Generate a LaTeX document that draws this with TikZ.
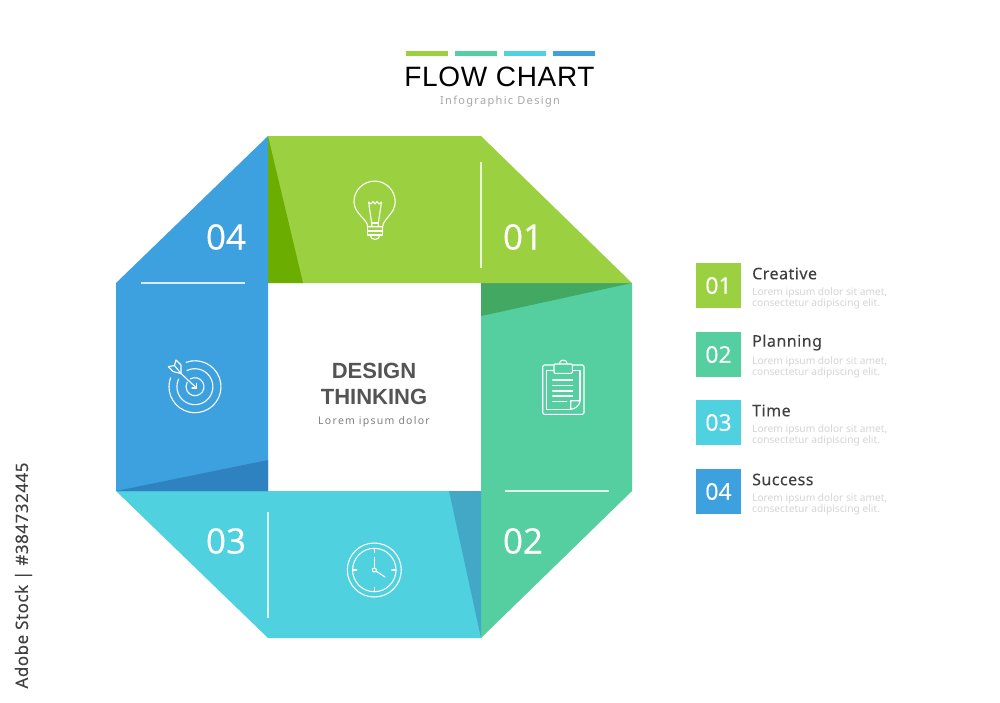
\documentclass[tikz,border=0pt]{standalone}
\usepackage{fontspec}
\setmainfont{Noto Sans}
\newfontfamily\headfont{Liberation Sans}
\newfontfamily\titlefont[LetterSpace=2.5]{Liberation Sans}
\newfontfamily\spacedfont[LetterSpace=12]{Noto Sans}
\newfontfamily\numfont[FakeBold=0.35]{Open Sans}
\newfontfamily\legendfont[LetterSpace=3,FakeBold=0.15]{Noto Sans}
\definecolor{cgreen}{HTML}{9BD141}
\definecolor{cteal}{HTML}{55CF9F}
\definecolor{ccyan}{HTML}{4FD1DF}
\definecolor{cblue}{HTML}{3EA1DF}
\definecolor{dgreen}{HTML}{6BAD00}
\definecolor{dteal}{HTML}{43A862}
\definecolor{dcyan}{HTML}{43A8C6}
\definecolor{dblue}{HTML}{2F82C0}
\tikzset{
  bignum/.style={text=white,font=\numfont\fontsize{35}{35}\selectfont,inner sep=0pt},
  boxnum/.style={fill=#1,minimum size=45pt,inner sep=0pt,text=white,font=\numfont\fontsize{23}{23}\selectfont},
  legendhead/.style={anchor=west,inner sep=0pt,text=black!75,font=\legendfont\fontsize{16}{16}\selectfont},
  legendtext/.style={anchor=north west,inner sep=0pt,align=left,text=black!17,font=\fontsize{10.2}{10.5}\selectfont},
  divider/.style={draw=white,line width=1.1pt,opacity=0.8},
  icon/.style={draw=white,line width=1.1pt,line cap=round,line join=round},
  topbar/.style={minimum width=42pt,minimum height=5pt,inner sep=0pt}
}
\begin{document}
\begin{tikzpicture}[x=1pt,y=-1pt]
\useasboundingbox (0,0) rectangle (1000,702);
\fill[cteal] (481,283) -- (632,283) -- (632,491) -- (481,638) -- cycle;
\fill[dteal] (481,283) -- (632,283) -- (481,316) -- cycle;
\fill[ccyan] (116,491) -- (481,491) -- (481,638) -- (268,638) -- cycle;
\fill[dcyan] (449,491) -- (481,491) -- (481,638) -- cycle;
\fill[cblue] (268,136) -- (268,491) -- (116,491) -- (116,283) -- cycle;
\fill[dblue] (116,491) -- (268,491) -- (268,460) -- cycle;
\fill[cgreen] (268,136) -- (481,136) -- (632,283) -- (268,283) -- cycle;
\fill[dgreen] (268,136) -- (303,283) -- (268,283) -- cycle;
\draw[divider] (141,283) -- (245,283);
\draw[divider] (481,162) -- (481,268);
\draw[divider] (505,491) -- (609,491);
\draw[divider] (268,512) -- (268,618);
\node[topbar,fill=cgreen] (bar1) at (427,53.2) {};
\node[topbar,fill=cteal] (bar2) at (476,53.2) {};
\node[topbar,fill=ccyan] (bar3) at (525,53.2) {};
\node[topbar,fill=cblue] (bar4) at (574,53.2) {};
\node[inner sep=0pt,font=\titlefont\fontsize{28}{28}\selectfont] (title) at (499.5,77) {FLOW CHART};
\node[inner sep=0pt,text=black!35,font=\spacedfont\fontsize{11}{11}\selectfont] (subtitle) at (500,101.5) {Infographic Design};
\node[bignum] (num4) at (226,237) {04};
\node[bignum] (num1) at (523,237) {01};
\node[bignum] (num2) at (523,541) {02};
\node[bignum] (num3) at (226,541) {03};
\node[inner sep=0pt,text=black!67,font=\headfont\bfseries\fontsize{22}{22}\selectfont] (design) at (374,371) {DESIGN};
\node[inner sep=0pt,text=black!67,font=\headfont\bfseries\fontsize{22}{22}\selectfont] (thinking) at (374,396.5) {THINKING};
\node[inner sep=0pt,text=black!50,font=\spacedfont\fontsize{10.5}{10.5}\selectfont] (lorem) at (374,422) {Lorem ipsum dolor};
\node[boxnum=cgreen] (box1) at (718.5,285.5) {01};
\node[boxnum=cteal] (box2) at (718.5,354.5) {02};
\node[boxnum=ccyan] (box3) at (718.5,422.5) {03};
\node[boxnum=cblue] (box4) at (718.5,491.5) {04};
\node[legendhead] (head1) at (752,273.5) {Creative};
\node[legendhead] (head2) at (752,342.5) {Planning};
\node[legendhead] (head3) at (752,410.5) {Time};
\node[legendhead] (head4) at (752,479.5) {Success};
\node[legendtext] (text1) at (752,288) {Lorem ipsum dolor sit amet,\\consectetur adipiscing elit.};
\node[legendtext] (text2) at (752,357) {Lorem ipsum dolor sit amet,\\consectetur adipiscing elit.};
\node[legendtext] (text3) at (752,425) {Lorem ipsum dolor sit amet,\\consectetur adipiscing elit.};
\node[legendtext] (text4) at (752,494) {Lorem ipsum dolor sit amet,\\consectetur adipiscing elit.};
\node[rotate=90,inner sep=0pt,text=black!75,font=\legendfont\fontsize{17}{17}\selectfont] (stockid) at (23.5,575.5) {Adobe Stock | \#384732445};
% bulb
\draw[icon] (367.7,226.7) .. controls (367.7,219) and (354,214) .. (354,201.7) arc[start angle=180,end angle=360,radius=20.6] .. controls (395.2,214) and (382.7,219) .. (382.7,226.7) -- cycle;
\draw[icon] (367.7,226.7) -- (367.7,235) -- (382.7,235) -- (382.7,226.7);
\draw[icon] (367.7,231) -- (382.7,231);
\draw[icon] (370,235) .. controls (371,241) and (379,241) .. (380,235);
\draw[icon] (371.7,226.7) -- (371.7,223) -- (368.5,202) -- (371,204) -- (373,201.5) -- (375,204) -- (377,201.5) -- (379,204) -- (381.5,202) -- (378.3,223) -- (378.3,226.7);
\draw[icon] (371.7,223) -- (378.3,223);
% target
\draw[icon] (186.1,362.3) arc[start angle=250,end angle=560,radius=26];
\draw[icon] (187,370.5) arc[start angle=244,end angle=565,radius=18];
\draw[icon] (190.5,378.9) arc[start angle=240,end angle=570,radius=9];
\draw[icon] (181,373.5) -- (196.5,388);
\draw[icon] (196.5,388) -- (196.5,383.5) (196.5,388) -- (192,388);
\draw[icon] (181,373.5) -- (173,371.5) -- (168.3,366.7) -- (174.5,365.5) -- (176,360) -- (181,365) -- cycle;
\draw[icon] (174.5,365.5) -- (181,373.5);
% clipboard
\draw[icon,rounded corners=1.5pt] (554,365) -- (542.7,365) -- (542.7,414.3) -- (584,414.3) -- (584,365) -- (572.3,365);
\draw[icon] (554,370.7) -- (546.7,370.7) -- (546.7,409.3) -- (570.7,409.3);
\draw[icon] (572.3,370.7) -- (580,370.7) -- (580,400.7);
\draw[icon,rounded corners=1pt] (554,373.3) -- (554,364) -- (572.3,364) -- (572.3,373.3) -- cycle;
\draw[icon] (559.3,364) arc[start angle=180,end angle=360,radius=4];
\draw[icon] (552.7,380) -- (572.7,380);
\draw[icon] (552.7,385.7) -- (572.7,385.7);
\draw[icon] (552.7,391) -- (572.7,391);
\draw[icon] (552.7,396) -- (572.7,396);
\draw[icon] (552.7,401.7) -- (566.7,401.7);
\draw[icon] (570.7,409.3) -- (570.7,400.7) -- (580,400.7) .. controls (580,405) and (575,409.3) .. (570.7,409.3);
% clock
\draw[icon] (374.3,570) circle[radius=27];
\draw[icon] (374.3,570) circle[radius=21.7];
\draw[icon] (374.3,570) circle[radius=2];
\draw[icon] (374.3,548.3) -- (374.3,552.5);
\draw[icon] (374.3,587.5) -- (374.3,591.7);
\draw[icon] (352.6,570) -- (356.8,570);
\draw[icon] (391.8,570) -- (396,570);
\draw[icon] (374.3,568) -- (374.3,557.7);
\draw[icon] (376,571) -- (385,577);
\end{tikzpicture}
\end{document}
